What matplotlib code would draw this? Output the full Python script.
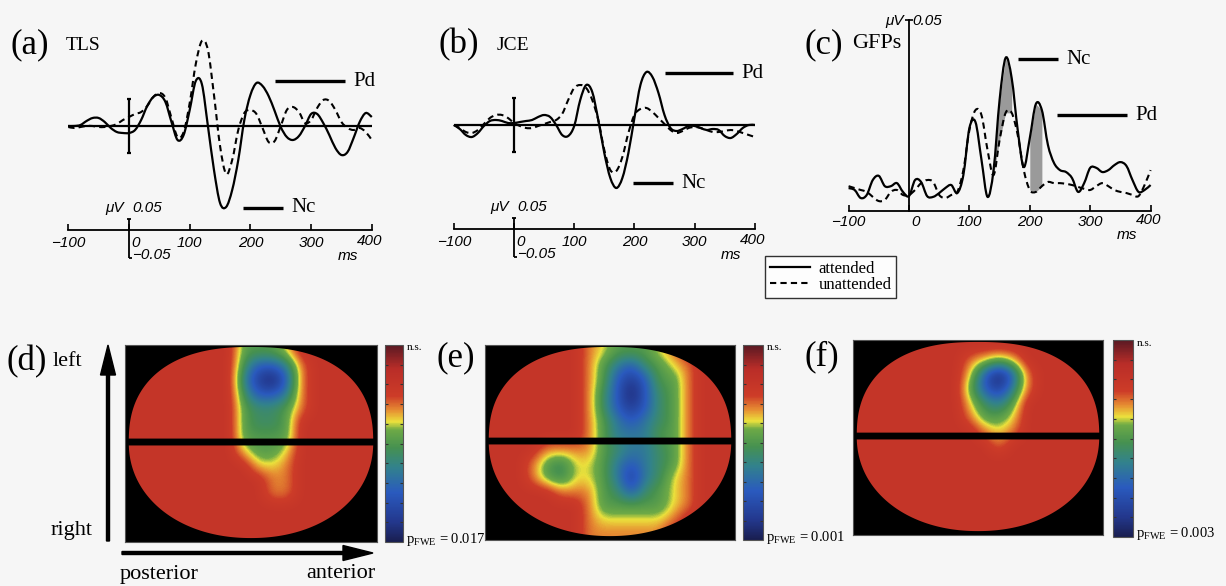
import numpy as np
import matplotlib
matplotlib.use("Agg")
import matplotlib.pyplot as plt
from matplotlib.colors import LinearSegmentedColormap, Normalize
from matplotlib.path import Path
from matplotlib.patches import PathPatch
from matplotlib.lines import Line2D
import matplotlib.cm as cm

W, H = 1226, 586

plt.rcParams['font.family'] = ['Liberation Serif', 'DejaVu Serif']
plt.rcParams['mathtext.fontset'] = 'custom'
plt.rcParams['mathtext.rm'] = 'Liberation Serif'
plt.rcParams['mathtext.it'] = 'Liberation Serif:italic'

# ---------------- datos de las curvas (ms, microvoltios) ----------------
TIME_MS = [-100, -90, -80, -70, -60, -50, -40, -30, -20, -10,
           0, 10, 20, 30, 40, 50, 60, 70, 80, 90,
           100, 110, 120, 130, 140, 150, 160, 170, 180, 190,
           200, 210, 220, 230, 240, 250, 260, 270, 280, 290,
           300, 310, 320, 330, 340, 350, 360, 370, 380, 390, 400]

TLS_ATTENDED = [0, 0, 0.0025, 0.0125, 0.02, 0.02, 0.01, -0.005, -0.015, -0.0175,
                -0.0175, -0.01, 0.015, 0.05, 0.0725, 0.0775, 0.06, 0.01, -0.035, -0.0225,
                0.04, 0.1125, 0.105, 0, -0.11, -0.1925, -0.2025, -0.16, -0.085, 0.015,
                0.0775, 0.1075, 0.1, 0.075, 0.0375, -0.0025, -0.0275, -0.035, -0.025, 0,
                0.03, 0.03, 0.0075, -0.0225, -0.055, -0.0725, -0.065, -0.03, 0.01, 0.0325, 0.0225]
TLS_UNATTENDED = [-0.0025, -0.005, -0.0025, 0, 0, -0.0025, -0.0025, 0, 0.005, 0.015,
                  0.0225, 0.03, 0.035, 0.05, 0.0725, 0.0825, 0.07, 0.02, -0.0275, -0.015,
                  0.0575, 0.155, 0.2125, 0.19, 0.0775, -0.05, -0.12, -0.085, -0.01, 0.0325,
                  0.04, 0.03, -0.005, -0.04, -0.0375, 0, 0.04, 0.0475, 0.035, 0.0075,
                  0.015, 0.045, 0.065, 0.0625, 0.04, 0.01, -0.005, -0.01, -0.005, -0.015, -0.035]

JCE_ATTENDED = [0, -0.01, -0.025, -0.03, -0.02, -0.0025, 0.01, 0.0125, 0.01, 0.005,
                0.005, 0.0075, 0.01, 0.0125, 0.02, 0.025, 0.02, 0, -0.025, -0.0275,
                -0.0025, 0.0625, 0.1, 0.0825, 0.0125, -0.07, -0.1325, -0.1575, -0.1325, -0.07,
                0.0175, 0.1, 0.1325, 0.12, 0.08, 0.025, -0.0075, -0.015, -0.01, -0.0025,
                -0.0025, -0.0075, -0.0125, -0.01, -0.0125, -0.0275, -0.0325, -0.0225, -0.0075, 0, 0]
JCE_UNATTENDED = [0, -0.0075, -0.0175, -0.02, -0.0125, 0.0025, 0.0175, 0.025, 0.025, 0.0175,
                  0.005, -0.0025, -0.0075, -0.0075, -0.0025, 0.0025, 0.0075, 0.0125, 0.0275, 0.0625,
                  0.0925, 0.1, 0.0925, 0.0625, 0.0125, -0.0625, -0.1125, -0.115, -0.08, -0.02,
                  0.025, 0.04, 0.0425, 0.0325, 0.0175, 0.0025, -0.0125, -0.02, -0.015, -0.0075,
                  -0.005, -0.0075, -0.0125, -0.0175, -0.0175, -0.015, -0.0125, -0.015, -0.02, -0.025, -0.03]

GFP_ATTENDED = [0.0060, 0.0055, 0.0034, 0.0042, 0.0081, 0.0092, 0.0065, 0.0065, 0.0073, 0.0050,
                0.0039, 0.0081, 0.0076, 0.0039, 0.0037, 0.0047, 0.0060, 0.0068, 0.0047, 0.0094,
                0.0217, 0.0233, 0.0134, 0.0037, 0.0107, 0.0291, 0.0401, 0.0348, 0.0212, 0.0115,
                0.0191, 0.0280, 0.0264, 0.0173, 0.0126, 0.0107, 0.0102, 0.0086, 0.0050, 0.0073,
                0.0113, 0.0113, 0.0102, 0.0107, 0.0120, 0.0128, 0.0118, 0.0081, 0.0050, 0.0055, 0.0068]
GFP_UNATTENDED = [0.0065, 0.0060, 0.0055, 0.0050, 0.0037, 0.0026, 0.0029, 0.0050, 0.0055, 0.0042,
                  0.0042, 0.0055, 0.0073, 0.0081, 0.0076, 0.0042, 0.0034, 0.0042, 0.0050, 0.0107,
                  0.0212, 0.0264, 0.0251, 0.0160, 0.0094, 0.0186, 0.0257, 0.0257, 0.0199, 0.0107,
                  0.0055, 0.0050, 0.0065, 0.0076, 0.0073, 0.0073, 0.0071, 0.0068, 0.0063, 0.0058,
                  0.0055, 0.0065, 0.0073, 0.0065, 0.0055, 0.0050, 0.0047, 0.0042, 0.0039, 0.0068, 0.0107]

# ventanas sombreadas del GFP (ms)
NC_WINDOW = (140, 170)
PD_WINDOW = (200, 220)

TICKS_MS = [-100, 0, 100, 200, 300, 400]
TICK_TEXT = ['\u2212100', '0', '100', '200', '300', '400']

# ---------------- mapas de significancia (niveles 0 = p minimo ... 8 = n.s.) ----------------
MAP_D = ["888888885556888888",
         "888888884223788888",
         "888888883102788888",
         "888888884223788888",
         "888888885445788888",
         "888888885445888888",
         "888888885555888888",
         "888888886556888888",
         "888888888667888888",
         "888888888877888888",
         "888888888877888888",
         "888888888888888888",
         "888888888888888888",
         "888888888888888888"]

MAP_E = ["888888876555678888",
         "888888875324567888",
         "888888875212557888",
         "888888874202457888",
         "888888874212457888",
         "888888875323457888",
         "888888875333557888",
         "888877775433457888",
         "888754665323457888",
         "888754665313467888",
         "888887775424567888",
         "888888875555567888",
         "888888876666678888",
         "888888877777788888"]

MAP_F = ["888888888888888888",
         "888888887656888888",
         "888888886202788888",
         "888888885213788888",
         "888888886435888888",
         "888888887556888888",
         "888888888767888888",
         "888888888878888888",
         "888888888888888888",
         "888888888888888888",
         "888888888888888888",
         "888888888888888888",
         "888888888888888888",
         "888888888888888888"]

P_FWE = ['0.017', '0.001', '0.003']

# valor del mapa de colores para cada nivel
LEVEL_VALUE = [0.02, 0.12, 0.24, 0.35, 0.44, 0.51, 0.61, 0.68, 0.80]

CMAP_POS = [0.0, 0.10, 0.25, 0.38, 0.48, 0.57, 0.61, 0.67, 0.74, 0.88, 1.0]
CMAP_RGB = ['#191e50', '#23378c', '#2a5abe', '#32828c', '#469150', '#6eaa46',
            '#ebe13c', '#e68c32', '#cd3c28', '#b92d28', '#5a1923']
cmap = LinearSegmentedColormap.from_list('spm', list(zip(CMAP_POS, CMAP_RGB)))
norm = Normalize(0, 1)

fig = plt.figure(figsize=(W / 100, H / 100), dpi=100)
fig.patch.set_facecolor('#f6f6f6')


def px_axes(x0, y0, x1, y1):
    return fig.add_axes([x0 / W, 1 - y1 / H, (x1 - x0) / W, (y1 - y0) / H])


def wave_axes(box, ox, oy, sx, sy):
    x0, y0, x1, y1 = box
    ax = px_axes(x0, y0, x1, y1)
    ax.set_xlim((x0 - ox) / sx, (x1 - ox) / sx)
    ax.set_ylim((oy - y1) / sy, (oy - y0) / sy)
    ax.patch.set_alpha(0)
    for s in ['top', 'right', 'left']:
        ax.spines[s].set_visible(False)
    ax.set_yticks([])
    return ax


def time_axis(ax, y):
    ax.spines['bottom'].set_position(('data', y))
    ax.spines['bottom'].set_bounds(TICKS_MS[0], TICKS_MS[-1])
    ax.spines['bottom'].set_linewidth(1.3)
    ax.set_xticks(TICKS_MS)
    ax.tick_params(axis='x', direction='in', length=4, width=1.2, labelbottom=False)


def curve(ax, x, y, **kw):
    # curva suave (Bezier de Catmull-Rom) que pasa por los puntos leidos
    p = np.column_stack([x, y]).astype(float)
    pe = np.vstack([p[0], p, p[-1]])
    verts = [p[0]]
    codes = [Path.MOVETO]
    for i in range(len(p) - 1):
        c1 = pe[i + 1] + (pe[i + 2] - pe[i]) / 6
        c2 = pe[i + 2] - (pe[i + 3] - pe[i + 1]) / 6
        verts += [c1, c2, p[i + 1]]
        codes += [Path.CURVE4] * 3
    patch = PathPatch(Path(verts, codes), transform=ax.transData, fill=False,
                      edgecolor='k', capstyle='butt', joinstyle='round', zorder=3, **kw)
    ax.add_patch(patch)
    return patch


SOLID = dict(lw=1.6)
DASHED = dict(lw=1.5, linestyle=(0, (3, 2)))


def draw_pair(ax, att, unatt):
    curve(ax, TIME_MS, att, **SOLID)
    curve(ax, TIME_MS, unatt, **DASHED)


# ---------------- (a) y (b) ----------------
wave_panels = [
    dict(box=(55, 10, 400, 275), ox=129, oy=126, sx=0.607, att=TLS_ATTENDED, un=TLS_UNATTENDED),
    dict(box=(440, 10, 785, 275), ox=514, oy=125, sx=0.602, att=JCE_ATTENDED, un=JCE_UNATTENDED),
]
SY = 400.0
AXIS_OFF = 104  # px entre la linea base y el eje del tiempo
for p in wave_panels:
    ax = wave_axes(p['box'], p['ox'], p['oy'], p['sx'], SY)
    ax_y = -AXIS_OFF / SY
    time_axis(ax, ax_y)
    ax.hlines(0, TIME_MS[0], TIME_MS[-1], color='k', lw=1.6, zorder=2)
    draw_pair(ax, p['att'], p['un'])
    # barra de escala vertical
    ax.vlines(0, -0.067, 0.067, color='k', lw=1.6)
    ax.hlines([-0.067, 0.067], -4, 4, color='k', lw=1.6)
    # barra de uV en el eje
    ax.vlines(0, ax_y - 28 / SY, ax_y + 11 / SY, color='k', lw=1.3)
    ax.hlines(ax_y + 11 / SY, -3, 4, color='k', lw=1.3)
    ax.hlines(ax_y - 28 / SY, 0, 5, color='k', lw=1.3)
    p['axis_px'] = p['oy'] + AXIS_OFF

# ---------------- (c) GFP ----------------
SY_C = 3820.0
axc = wave_axes((800, 5, 1185, 250), 909, 211, 0.604, SY_C)
time_axis(axc, 0)
axc.spines['left'].set_visible(True)
axc.spines['left'].set_position(('data', 0))
axc.spines['left'].set_bounds(0, 0.05)
axc.spines['left'].set_linewidth(1.3)
axc.set_yticks([0.05])
axc.tick_params(axis='y', direction='inout', length=6, width=1.2, labelleft=False)
t = np.array(TIME_MS)
ga = np.array(GFP_ATTENDED)
gu = np.array(GFP_UNATTENDED)
for lo, hi in (NC_WINDOW, PD_WINDOW):
    m = (t >= lo) & (t <= hi)
    axc.fill_between(t[m], gu[m], ga[m], color='#9a9a9a', lw=0, zorder=1)
draw_pair(axc, GFP_ATTENDED, GFP_UNATTENDED)

h_att = Line2D([], [], color='k', **SOLID)
h_un = Line2D([], [], color='k', lw=1.5, ls=(0, (3, 2)))
leg = fig.legend([h_att, h_un], ['attended', 'unattended'], loc='upper left',
                 bbox_to_anchor=(765 / W, 1 - 256 / H), frameon=True, fancybox=False,
                 fontsize=12, handlelength=2.4, handletextpad=0.5, labelspacing=0.0,
                 borderpad=0.3, borderaxespad=0)
leg.get_frame().set_edgecolor('k')
leg.get_frame().set_linewidth(1.0)
leg.get_frame().set_facecolor('white')

# ---------------- mapas (d), (e), (f) ----------------
def hemispheres(n_up=2.4, n_lo=2.1, a=0.485, b=0.485, cy=0.495, gap=(0.475, 0.51)):
    th = np.linspace(0, np.pi, 200)
    c, s = np.cos(th), np.abs(np.sin(th))
    cxu = 0.5 + a * np.sign(c) * np.abs(c) ** (2 / n_up)
    up = np.column_stack([cxu, np.minimum(cy - b * s ** (2 / n_up), gap[0])])
    cxl = 0.5 + a * np.sign(c) * np.abs(c) ** (2 / n_lo)
    lo = np.column_stack([cxl[::-1], np.maximum(cy + b * s ** (2 / n_lo), gap[1])])
    return Path.make_compound_path(Path(up, closed=False), Path(lo, closed=False))


maps = [
    dict(grid=MAP_D, box=(125, 345, 377, 542), cbar=(385, 345, 403, 542)),
    dict(grid=MAP_E, box=(485, 345, 735, 540), cbar=(743, 345, 763, 540)),
    dict(grid=MAP_F, box=(853, 340, 1103, 535), cbar=(1113, 340, 1133, 537)),
]
for mp in maps:
    axm = px_axes(*mp['box'])
    axm.set_facecolor('black')
    vals = np.array([[LEVEL_VALUE[int(ch)] for ch in row] for row in mp['grid']])
    im = axm.imshow(vals, cmap=cmap, norm=norm, extent=(0, 1, 1, 0), aspect='auto',
                    interpolation='bicubic', interpolation_stage='data')
    clip = PathPatch(hemispheres(), transform=axm.transData, facecolor='none', edgecolor='none')
    axm.add_patch(clip)
    im.set_clip_path(clip)
    axm.set_xlim(0, 1)
    axm.set_ylim(1, 0)
    axm.set_xticks([])
    axm.set_yticks([])
    for s in axm.spines.values():
        s.set_edgecolor('#555555')
        s.set_linewidth(0.8)
    cax = px_axes(*mp['cbar'])
    cb = fig.colorbar(cm.ScalarMappable(norm=norm, cmap=cmap), cax=cax)
    cb.outline.set_edgecolor('#555555')
    cb.outline.set_linewidth(0.8)
    cb.set_ticks(np.linspace(0, 1, 11)[1:-1])
    cb.ax.tick_params(direction='in', length=2.5, width=0.8, color='#333333',
                      left=True, right=True, labelleft=False, labelright=False)

# ---------------- capa de textos y flechas (pixeles) ----------------
ov = fig.add_axes([0, 0, 1, 1])
ov.set_xlim(0, W)
ov.set_ylim(H, 0)
ov.axis('off')
ov.patch.set_alpha(0)

sans_it = dict(family=['Liberation Sans', 'DejaVu Sans'], style='italic', fontsize=11)


def tick_labels(ox, sx, axis_px, dy_lab, uv_top_px, uv_bot=True):
    for tm, txt in zip(TICKS_MS, TICK_TEXT):
        x = ox + sx * tm
        if tm == 0:
            ov.text(ox + 2, axis_px + dy_lab, txt, ha='left', va='center', **sans_it)
        elif tm == TICKS_MS[-1]:
            ov.text(x - 2, axis_px + dy_lab - 2, txt, ha='center', va='center', **sans_it)
        else:
            ov.text(x, axis_px + dy_lab, txt, ha='center', va='center', **sans_it)
    ov.text(ox + sx * 360, axis_px + dy_lab + 13, 'ms', ha='center', va='center', **sans_it)
    ov.text(ox - 5, uv_top_px, '\u03bcV', ha='right', va='center', **sans_it)
    ov.text(ox + 3, uv_top_px, '0.05', ha='left', va='center', **sans_it)
    if uv_bot:
        ov.text(ox + 3, axis_px + 25, '\u22120.05', ha='left', va='center', **sans_it)


for p in wave_panels:
    tick_labels(p['ox'], p['sx'], p['axis_px'], 13, p['axis_px'] - 22)
tick_labels(909, 0.604, 211, 11, 21, uv_bot=False)


def marker(x0, x1, y, label):
    ov.plot([x0, x1], [y, y], color='k', lw=2.4, solid_capstyle='butt')
    ov.text(x1 + 8, y, label, ha='left', va='center', fontsize=15)


marker(275, 345, 81, 'Pd')
marker(243, 283, 208, 'Nc')
marker(665, 733, 73, 'Pd')
marker(633, 673, 183, 'Nc')
marker(1018, 1058, 59, 'Nc')
marker(1057, 1127, 115, 'Pd')

ov.text(11, 45, '(a)', ha='left', va='center', fontsize=25)
ov.text(66, 46, 'TLS', ha='left', va='center', fontsize=14)
ov.text(439, 45, '(b)', ha='left', va='center', fontsize=25)
ov.text(497, 46, 'JCE', ha='left', va='center', fontsize=14)
ov.text(805, 45, '(c)', ha='left', va='center', fontsize=25)
ov.text(852, 43, 'GFPs', ha='left', va='center', fontsize=16)

ov.text(6, 362, '(d)', ha='left', va='center', fontsize=25)
ov.text(53, 362, 'left', ha='left', va='center', fontsize=16)
ov.text(93, 530, 'right', ha='right', va='center', fontsize=16)
ov.text(120, 574, 'posterior', ha='left', va='center', fontsize=16)
ov.text(375, 574, 'anterior', ha='right', va='center', fontsize=16)
ov.text(436, 358, '(e)', ha='left', va='center', fontsize=25)
ov.text(805, 357, '(f)', ha='left', va='center', fontsize=25)

ov.arrow(108, 541, 0, -196, width=3, head_width=15, head_length=30,
         length_includes_head=True, color='k')
ov.arrow(122, 553, 251, 0, width=3, head_width=15, head_length=30,
         length_includes_head=True, color='k')

for mp, pv in zip(maps, P_FWE):
    cx1 = mp['cbar'][2]
    ov.text(cx1 + 4, mp['cbar'][1] + 3, 'n.s.', ha='left', va='center', fontsize=8)
    ov.text(cx1 + 3, mp['cbar'][3] - 3, r'p$_{\rm FWE}$ = ' + pv, ha='left', va='center', fontsize=10.5)

fig.savefig('out.png', dpi=100, facecolor=fig.get_facecolor())
